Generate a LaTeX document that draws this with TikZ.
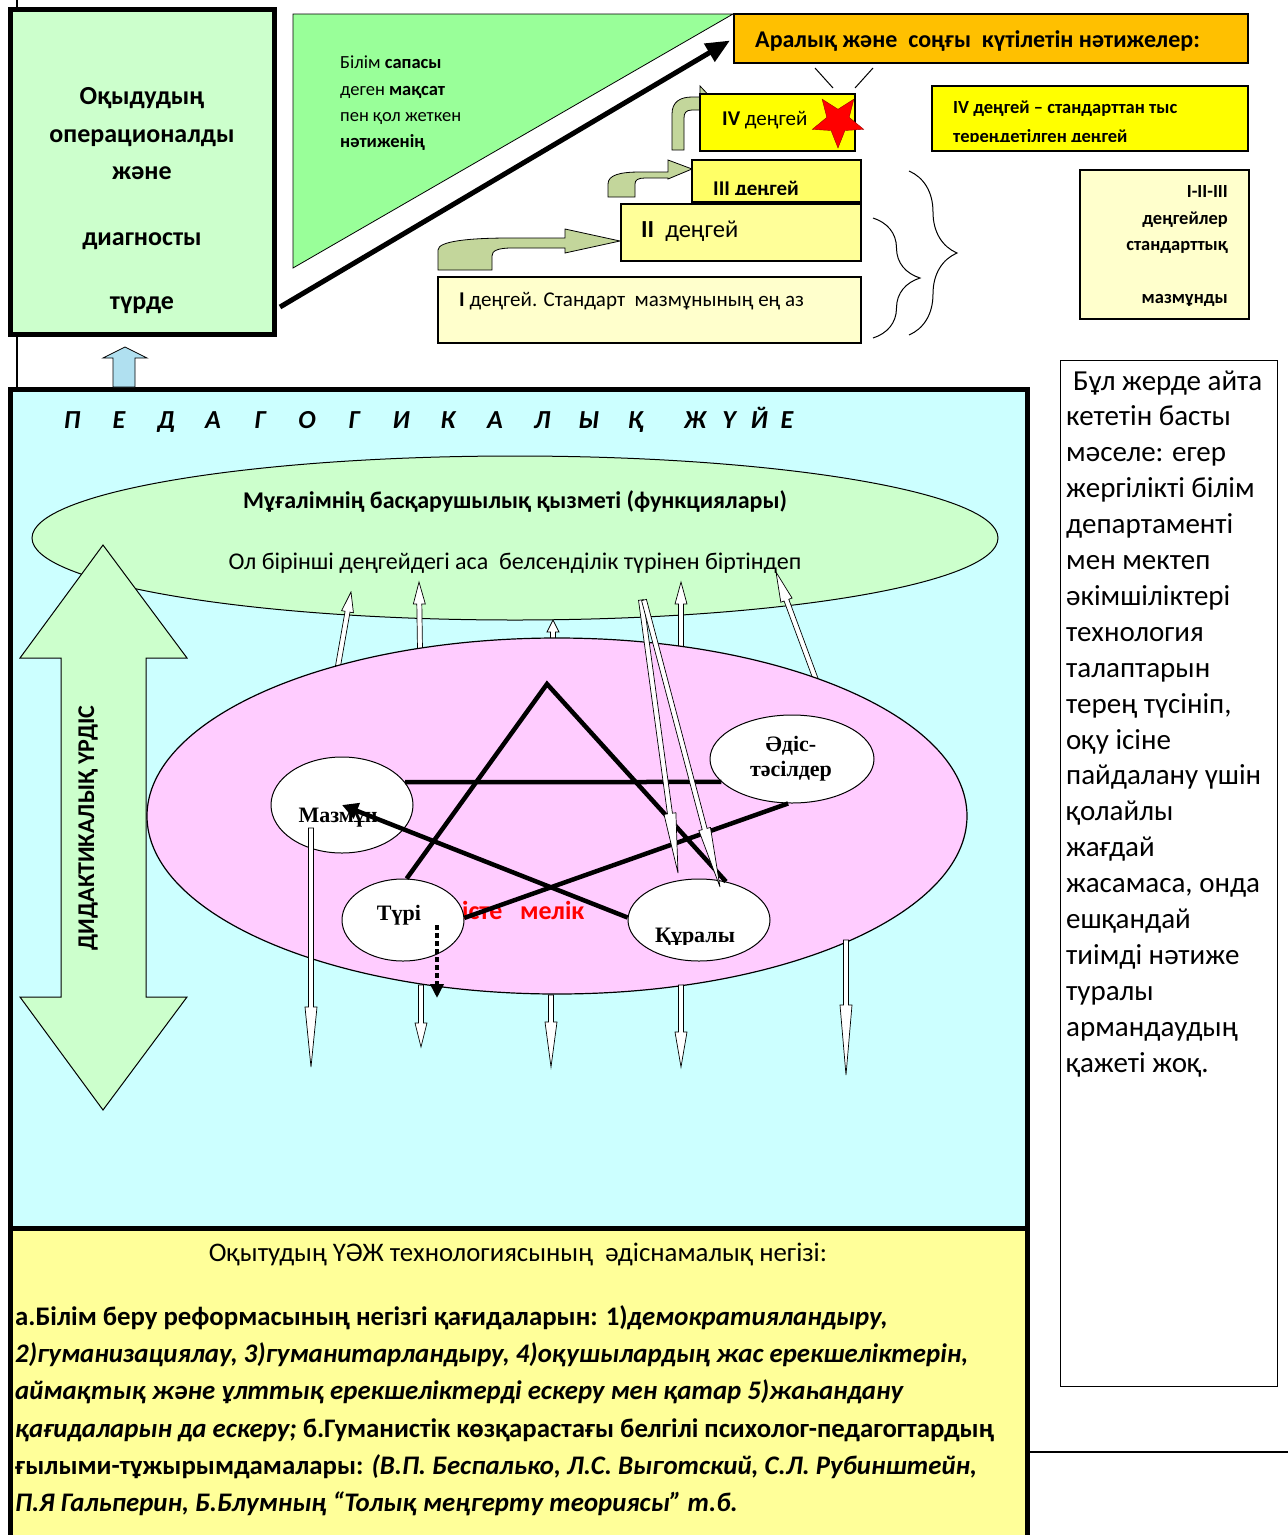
\documentclass[tikz,border=0pt]{standalone}
\usepackage{fontspec}
\setmainfont{Carlito}
\newfontfamily\timesfont{Liberation Serif}
\usetikzlibrary{
  arrows.meta,
  calc,
  decorations.pathreplacing,
  positioning,
  shapes.geometric,
}
\newcommand{\fsz}[1]{\fontsize{#1}{#1}\selectfont}
\definecolor{paleGreen}{RGB}{204,255,204}
\definecolor{brightGreen}{RGB}{153,255,153}
\definecolor{amber}{RGB}{255,192,0}
\definecolor{paleCyan}{RGB}{204,255,255}
\definecolor{palePink}{RGB}{255,204,255}
\definecolor{oliveLight}{RGB}{195,214,155}
\definecolor{skyBlue}{RGB}{176,224,240}
\definecolor{levI}{RGB}{255,255,204}
\definecolor{levII}{RGB}{255,255,153}
\definecolor{levIII}{RGB}{255,255,102}
\definecolor{levIV}{RGB}{255,255,0}
\tikzstyle{box} = [draw, rectangle, inner sep=0pt, line width=1.2pt]
\tikzstyle{heavybox} = [draw, rectangle, inner sep=0pt, line width=5pt]
\tikzstyle{lbl} = [inner sep=0pt, anchor=base west]
\tikzstyle{bent} = [draw, fill=oliveLight, line width=0.8pt]
\tikzstyle{starline} = [line width=4.5pt, black]
\tikzstyle{circ} = [draw, ellipse, fill=white, line width=1pt, inner sep=0pt]
\tikzstyle{circtext} = [inner sep=0pt, font=\timesfont\bfseries\fsz{22}]
\newcommand{\hollowarrow}[3]{%
  \coordinate (hm) at ($(#2)!#3!(#1)$);
  \draw[fill=white, line width=0.7pt]
    ($(#1)!2.5pt!90:(#2)$) -- ($(hm)!2.5pt!-90:(#1)$) -- ($(hm)!6pt!-90:(#1)$) -- (#2)
    -- ($(hm)!6pt!90:(#1)$) -- ($(hm)!2.5pt!90:(#1)$) -- ($(#1)!2.5pt!-90:(#2)$) -- cycle;
}

\begin{document}
\begin{tikzpicture}[x=1pt, y=-1pt]
  \useasboundingbox (0,0) rectangle (1288,1535);
  \coordinate (edgeTop) at (17,0);
  \coordinate (edgeBot) at (17,388);
  \draw[line width=1.2pt] (edgeTop) -- (edgeBot);

  % top left box and goal triangle
  \node[heavybox, fill=paleGreen, minimum width=264, minimum height=325] (opbox) at (142.5,172) {};
  \foreach \txt/\yy [count=\i] in {Оқыдудың/104, операционалды/142, және/179, диагносты/245, түрде/309}
    \node[anchor=base, inner sep=0pt, font=\bfseries\fsz{26}] (op\i) at (142,\yy) {\txt};

  \draw[fill=brightGreen, line width=0.8pt] (293,14) -- (733,14) -- (293,268) -- cycle;
  \node[lbl, font=\fsz{18.5}] (goal1) at (340,68) {Білім \textbf{сапасы}};
  \node[lbl, font=\fsz{18.5}] (goal2) at (340,95) {деген \textbf{мақсат}};
  \node[lbl, font=\fsz{18.5}] (goal3) at (340,121) {пен қол жеткен};
  \node[lbl, font=\fsz{18.5}] (goal4) at (340,147) {\textbf{нәтиженің}};

  \node[box, fill=amber, minimum width=514, minimum height=49] (res) at (991,38.5) {};
  \node[lbl, font=\bfseries\fsz{24}] (restext) at (755,47) {Аралық және\ \ соңғы\ \ күтілетін нәтижелер:};
  \draw[line width=5pt, -{Triangle[length=24pt,width=20pt]}, shorten >=4pt] ($(opbox.south east)+(3,-30)$) -- (res.west);

  \coordinate (ray1a) at (815,68); \coordinate (ray1b) at (833,88);
  \coordinate (ray2a) at (873,68); \coordinate (ray2b) at (855,88);
  \draw[line width=1pt] (ray1a) -- (ray1b) (ray2a) -- (ray2b);

  % stairs of levels
  \draw[bent] (438,270) -- (438,250) .. controls (438,241) and (470,238) .. (510,238) -- (565,238) -- (565,229) -- (620,241) -- (565,253) -- (565,248) -- (512,248) .. controls (497,248) and (492,251) .. (492,256) -- (492,270) -- cycle;
  \draw[bent] (608,197) -- (608,184) .. controls (608,175) and (620,172) .. (640,172) -- (668,172) -- (668,160) -- (692,169) -- (668,179) -- (668,178) -- (645,178) .. controls (638,178) and (635,180) .. (635,184) -- (635,197) -- cycle;
  \draw[bent] (672,150) -- (672,114) .. controls (672,102) and (680,97) .. (692,97) -- (700,97) -- (700,86) -- (716,103) -- (700,120) -- (700,110) -- (692,110) .. controls (686,110) and (684,113) .. (684,118) -- (684,150) -- cycle;

  \node[box, fill=levI, minimum width=423, minimum height=66] (lev1) at (649.5,310) {};
  \node[lbl, font=\fsz{21}] (lev1text) at (459,306) {\textbf{I} деңгей. Стандарт\ \ мазмұнының ең аз};
  \node[box, fill=levII, minimum width=240, minimum height=57] (lev2) at (741,232.5) {};
  \node[lbl, font=\fsz{24.5}] (lev2text) at (641,237) {\textbf{II}\ \ деңгей};
  \node[box, fill=levIII, minimum width=169, minimum height=42] (lev3) at (776.5,181) {};
  \begin{scope}
    \clip (692,160) rectangle (861,194);
    \node[lbl, font=\bfseries\fsz{21}] (lev3text) at (713,195) {III деңгей};
  \end{scope}
  \node[box, fill=levIV, minimum width=155, minimum height=57] (lev4) at (777.5,122.5) {};
  \node[lbl, font=\fsz{21}] (lev4text) at (722,125) {\textbf{IV} деңгей};
  \node[star, star points=5, star point ratio=2.3, shape border rotate=180, fill=red, draw=red!60!black, minimum size=54, inner sep=0pt] (redstar) at (838,121) {};

  \node[box, fill=levIV, minimum width=316, minimum height=65] (deep) at (1090,118.5) {};
  \node[lbl, font=\bfseries\fsz{18.5}] (deep1) at (953,113) {IV деңгей – стандарттан тыс};
  \begin{scope}
    \clip (932,120) rectangle (1248,141);
    \node[lbl, font=\bfseries\fsz{18.5}] (deep2) at (953,142) {тереңдетілген деңгей};
  \end{scope}

  \coordinate (br1a) at (873,218); \coordinate (br1b) at (873,338);
  \coordinate (br2a) at (909,171); \coordinate (br2b) at (909,335);
  \draw[line width=1pt, decorate, decoration={brace, amplitude=47pt}] (br1a) -- (br1b);
  \draw[line width=1pt, decorate, decoration={brace, amplitude=48pt}] (br2a) -- (br2b);

  \node[box, fill=levI, minimum width=169, minimum height=149] (std) at (1164.5,244.5) {};
  \foreach \txt/\yy [count=\i] in {I-II-III/197, деңгейлер/224, стандарттық/250, мазмұнды/303}
    \node[inner sep=0pt, anchor=base east, font=\bfseries\fsz{18.5}] (std\i) at (1228,\yy) {\txt};

  % note on the right
  \node[box, line width=1pt, fill=white, minimum width=217, minimum height=1026] (note) at (1168.5,873) {};
  \foreach \ln [count=\i] in {\hspace{7pt}Бұл жерде айта, кететін басты, мәселе: егер, жергілікті білім, департаменті, мен мектеп, әкімшіліктері, технология, талаптарын, {терең түсініп,}, оқу ісіне, пайдалану үшін, қолайлы, жағдай, {жасамаса, онда}, ешқандай, тиімді нәтиже, туралы, армандаудың, қажеті жоқ.}
    \node[lbl, font=\fsz{29}] (note\i) at (1066,{390+35.9*(\i-1)}) {\ln};

  % pedagogical system
  \node[heavybox, fill=paleCyan, minimum width=1017, minimum height=839] (system) at (518.5,808.5) {};
  \node[heavybox, fill=levII, minimum width=1017, minimum height=317] (basis) at (518.5,1386.5) {};
  \draw[fill=skyBlue, line width=0.8pt] (113,387) -- (113,358) -- (103,358) -- (125,347) -- (147,358) -- (135,358) -- (135,387) -- cycle;
  \coordinate (lineL) at (1030,1452); \coordinate (lineR) at (1288,1452);
  \draw[line width=1.5pt] (lineL) -- (lineR);

  \foreach \ch/\xx [count=\i] in {П/72, Е/119, Д/166, А/213, Г/260, О/307, Г/354, И/401, К/448, А/495, Л/542, Ы/589, Қ/636, Ж/695, Ү/729, Й/759, Е/787}
    \node[anchor=base, inner sep=0pt, font=\bfseries\itshape\fsz{26}] (hd\i) at (\xx,428) {\ch};

  \node[draw, ellipse, fill=paleGreen, line width=1pt, minimum width=966, minimum height=164, inner sep=0pt] (mgmt) at (515,538) {};
  \node[anchor=base, inner sep=0pt, font=\bfseries\fsz{24}] (mgmt1) at (515,508) {Мұғалімнің басқарушылық қызметі (функциялары)};
  \node[anchor=base, inner sep=0pt, font=\fsz{24}] (mgmt2) at (515,569) {Ол бірінші деңгейдегі аса\ \ белсенділік түрінен біртіндеп};

  \foreach \sx/\sy/\ex/\ey/\hl [count=\i] in {338/666/351/592/20, 420/650/419/582/22, 553/642/553/620/12, 681/648/681/582/22, 816/680/776/572/30} {
    \coordinate (ua\i) at (\sx,\sy);
    \coordinate (ub\i) at (\ex,\ey);
    \hollowarrow{ua\i}{ub\i}{\hl pt}
  }

  \node[draw, ellipse, fill=palePink, line width=1.2pt, minimum width=820, minimum height=356, inner sep=0pt] (peda) at (557,816) {};

  \foreach \sx/\sy/\ex/\ey/\hl [count=\i] in {421/985/421/1047/24, 551/995/551/1067/45, 681/985/681/1067/35, 846/940/846/1075/70} {
    \coordinate (da\i) at (\sx,\sy);
    \coordinate (db\i) at (\ex,\ey);
    \hollowarrow{da\i}{db\i}{\hl pt}
  }

  \draw[fill=paleGreen, line width=1pt] (103,545) -- (187,658) -- (146,658) -- (146,997) -- (187,997) -- (103,1110) -- (20,997) -- (61,997) -- (61,658) -- (20,658) -- cycle;
  \node[rotate=90, font=\bfseries\fsz{24}] (didact) at (88,828) {ДИДАКТИКАЛЫҚ ҮРДІС};

  % pentagram of the process
  \node[lbl, text=red, font=\bfseries\fsz{26}] (redtext) at (462,919) {істе\ \ \ мелік};
  \node[circ, minimum width=142, minimum height=96] (maz) at (342,805) {};
  \node[circ, minimum width=164, minimum height=88] (adis) at (792,759) {};
  \node[circ, minimum width=122, minimum height=82] (tur) at (403,920) {};
  \node[circ, minimum width=142, minimum height=82] (kur) at (699,920) {};
  \coordinate (apex) at (547,684);
  \draw[starline] (tur.85) -- (apex) -- (kur.55);
  \draw[starline] (maz.20) -- (adis.198);
  \draw[starline] (adis.265) -- (tur.2);

  \node[circtext] (maztext) at (338,818) {Мазмұн};
  \node[circtext, align=center] (adistext) at (791,759) {Әдіс-\\[3pt]тәсілдер};
  \node[circtext] (turtext) at (399,915) {Түрі};
  \begin{scope}
    \clip (628,900) rectangle (770,944);
    \node[circtext] (kurtext) at (695,938) {Құралы};
  \end{scope}
  \draw[starline, -{Triangle[length=16pt,width=16pt]}] (kur.178) -- (maz.center);

  \coordinate (dotS) at (437,925);
  \coordinate (dotE) at (437,998);
  \draw[line width=3.5pt, dash pattern=on 5pt off 3pt, -{Triangle[length=14pt,width=13pt]}] (dotS) -- (dotE);

  \coordinate (ma0) at (311,828); \coordinate (mb0) at (311,1067);
  \hollowarrow{ma0}{mb0}{60pt}
  \coordinate (ga1) at (641,600); \coordinate (gb1) at (678,873);
  \coordinate (ga2) at (644,600); \coordinate (gb2) at (720,887);
  \hollowarrow{ga1}{gb1}{60pt}
  \hollowarrow{ga2}{gb2}{60pt}

  % methodological basis
  \node[anchor=base, inner sep=0pt, font=\fsz{26.8}] (basistitle) at (518,1261) {Оқытудың ҮӘЖ технологиясының\ \ әдіснамалық негізі:};
  \node[lbl, font=\bfseries\fsz{26.8}] (bl1) at (15,1325) {а.Білім беру реформасының негізгі қағидаларын: 1)\textit{демократияландыру,}};
  \node[lbl, font=\bfseries\fsz{26.8}] (bl2) at (15,1362) {\textit{2)гуманизациялау, 3)гуманитарландыру, 4)оқушылардың жас ерекшеліктерін,}};
  \node[lbl, font=\bfseries\fsz{26.8}] (bl3) at (15,1399) {\textit{аймақтық және ұлттық ерекшеліктерді ескеру мен қатар 5)жаһандану}};
  \node[lbl, font=\bfseries\fsz{26.8}] (bl4) at (15,1437) {\textit{қағидаларын да ескеру;} б.Гуманистік көзқарастағы белгілі психолог-педагогтардың};
  \node[lbl, font=\bfseries\fsz{26.8}] (bl5) at (15,1474) {ғылыми-тұжырымдамалары: \textit{(В.П. Беспалько, Л.С. Выготский, С.Л. Рубинштейн,}};
  \node[lbl, font=\bfseries\fsz{26.8}] (bl6) at (15,1511) {\textit{П.Я Гальперин, Б.Блумның “Толық меңгерту теориясы” т.б.}};
\end{tikzpicture}
\end{document}
